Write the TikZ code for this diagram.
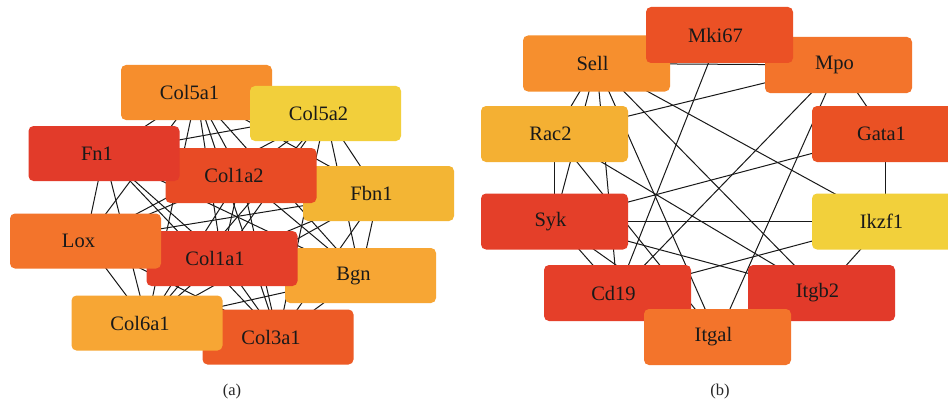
\documentclass[tikz,border=0pt]{standalone}
\usepackage{fontspec}
\setmainfont{Liberation Serif}
\pgfdeclarelayer{bg}
\pgfdeclarelayer{paper}
\pgfsetlayers{paper,bg,main}
\definecolor{cColVa}{HTML}{F68E2D}
\definecolor{cColVb}{HTML}{F2CF3B}
\definecolor{cFn}{HTML}{E23B2A}
\definecolor{cColIb}{HTML}{E84B25}
\definecolor{cFbn}{HTML}{F3B534}
\definecolor{cLox}{HTML}{F3742B}
\definecolor{cColIa}{HTML}{E43F29}
\definecolor{cBgn}{HTML}{F7A634}
\definecolor{cColVIa}{HTML}{F7A634}
\definecolor{cColIIIa}{HTML}{ED5B26}
\definecolor{cMki}{HTML}{EB5125}
\definecolor{cSell}{HTML}{F68F2E}
\definecolor{cMpo}{HTML}{F3742B}
\definecolor{cRac}{HTML}{F4B033}
\definecolor{cGata}{HTML}{EA5124}
\definecolor{cSyk}{HTML}{E43F29}
\definecolor{cIkzf}{HTML}{F2D03B}
\definecolor{cCd}{HTML}{E53F29}
\definecolor{cItgb}{HTML}{E23A2A}
\definecolor{cItgal}{HTML}{F3742B}
\newcommand\gla[1]{\hspace*{-14pt}#1}
\newcommand\glb[1]{\hspace*{-8pt}#1}
\begin{document}
\begin{tikzpicture}[x=1pt,y=-1pt,
  gene/.style={draw=none, rounded corners=5pt, inner sep=0pt,
    font=\fontsize{20.5}{24}\selectfont, text=black!90},
  genea/.style={gene, minimum width=151pt, minimum height=55pt},
  geneb/.style={gene, minimum width=147pt, minimum height=56pt},
  link/.style={draw=black!90, line width=1pt},
  panellabel/.style={font=\fontsize{16.5}{19}\selectfont, text=black!85}]
\clip (0,0) rectangle (948,404);
\begin{pgfonlayer}{paper}
\fill[white] (0,0) rectangle (948,404);
\end{pgfonlayer}
% panel (a)
\node[genea, fill=cColVa]   (a1)  at (196.5,92.5) {\gla{Col5a1}};
\node[genea, fill=cColVb]   (a2)  at (325.5,113.5) {\gla{Col5a2}};
\node[genea, fill=cFbn]     (a5)  at (378.5,193.5) {\gla{Fbn1}};
\node[genea, fill=cColIb]   (a4)  at (241,175.5) {\gla{Col1a2}};
\node[genea, fill=cFn]      (a3)  at (104,153.5) {\gla{Fn1}};
\node[genea, fill=cBgn]     (a8)  at (360.5,275.5) {\gla{Bgn}};
\node[genea, fill=cColIa]   (a7)  at (222,258.5) {\gla{Col1a1}};
\node[genea, fill=cLox]     (a6)  at (85.5,241) {\gla{Lox}};
\node[genea, fill=cColIIIa] (a10) at (278,337) {\gla{Col3a1}};
\node[genea, fill=cColVIa]  (a9)  at (147,323) {\gla{Col6a1}};
\begin{pgfonlayer}{bg}
\foreach \i [evaluate=\i as \k using int(\i+1)] in {1,...,9} {
  \foreach \j in {\k,...,10} { \draw[link] (a\i.center) -- (a\j.center); }
}
\end{pgfonlayer}
% panel (b)
\node[geneb, fill=cSell]  (sell)  at (596.5,63.5) {\glb{Sell}};
\node[geneb, fill=cMpo]   (mpo)   at (838.5,65) {\glb{Mpo}};
\node[geneb, fill=cMki]   (mki)   at (719.5,35) {\glb{Mki67}};
\node[geneb, fill=cRac]   (rac)   at (554.5,134) {\glb{Rac2}};
\node[geneb, fill=cGata]  (gata)  at (885.5,134) {\glb{Gata1}};
\node[geneb, fill=cSyk]   (syk)   at (554.5,221.5) {\glb{Syk}};
\node[geneb, fill=cIkzf]  (ikzf)  at (885.5,221.5) {\glb{Ikzf1}};
\node[geneb, fill=cCd]    (cd)    at (617.5,293) {\glb{Cd19}};
\node[geneb, fill=cItgb]  (itgb)  at (821.5,293) {\glb{Itgb2}};
\node[geneb, fill=cItgal] (itgal) at (717.5,337) {\glb{Itgal}};
\begin{pgfonlayer}{bg}
\foreach \p/\q in {mki/cd, sell/mpo, mpo/rac, sell/rac, sell/syk, sell/cd,
  sell/itgal, sell/itgb, sell/ikzf, mpo/cd, mpo/itgal, mpo/gata, rac/syk,
  rac/itgal, rac/itgb, gata/syk, gata/ikzf, syk/ikzf, ikzf/cd, ikzf/itgb,
  syk/cd, syk/itgb, syk/itgal} {
  \draw[link] (\p.center) -- (\q.center);
}
\end{pgfonlayer}
\node[panellabel] (capa) at (232,392) {(a)};
\node[panellabel] (capb) at (720,392) {(b)};
\end{tikzpicture}
\end{document}
